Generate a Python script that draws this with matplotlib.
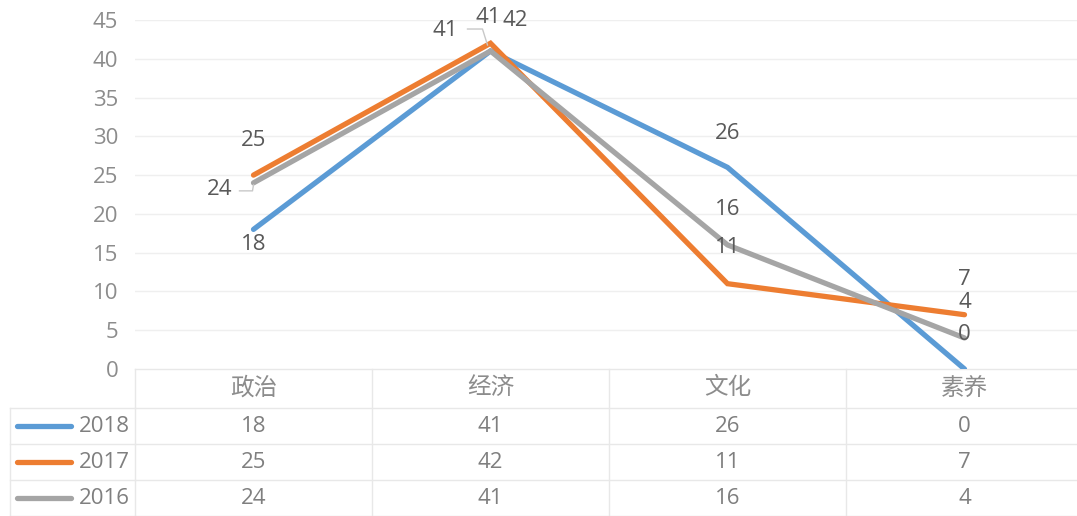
import matplotlib.pyplot as plt
from matplotlib.lines import Line2D
from matplotlib.transforms import blended_transform_factory, IdentityTransform

categories = ['政治', '经济', '文化', '素养']
years = ['2018', '2017', '2016']
vals_2018 = [18, 41, 26, 0]
vals_2017 = [25, 42, 11, 7]
vals_2016 = [24, 41, 16, 4]
y_ticks = [0, 5, 10, 15, 20, 25, 30, 35, 40, 45]

colors = ['#5B9BD5', '#ED7D31', '#A5A5A5']
series = [vals_2018, vals_2017, vals_2016]

# label offsets in pixels (dx, dy), dy positive = up
label_off = [
    [(0, -15), (-2, 34), (0, 34), (0, 35)],
    [(0, 35), (25, 23), (0, 36), (0, 35)],
    [(-34, -7), (-45, 21), (0, 35), (0, 35)],
]

plt.rcParams['font.family'] = ['Open Sans', 'Noto Sans CJK SC', 'DejaVu Sans']
W, H = 1077, 516
fig = plt.figure(figsize=(W / 100, H / 100), dpi=100)
ax = fig.add_axes([135 / W, 147 / H, 942 / W, 349 / H])
ax.set_xlim(-0.5, -0.5 + 942 / 237)
ax.set_ylim(0, 45)

ax.set_yticks(y_ticks)
ax.set_yticklabels([str(t) for t in y_ticks], fontsize=16, color='#8c8c8c')
ax.tick_params(axis='y', length=0, pad=12)
ax.set_xticks([])
for s in ax.spines.values():
    s.set_visible(False)
for t in y_ticks[1:]:
    ax.axhline(t, color='#efefef', lw=1, zorder=0)

x = list(range(len(categories)))
for vals, c in zip(series, colors):
    ax.plot(x, vals, color=c, lw=3.8, solid_capstyle='round',
            solid_joinstyle='miter', zorder=3)

for vals, offs in zip(series, label_off):
    for i, v in enumerate(vals):
        dx, dy = offs[i]
        ax.annotate(str(v), (i, v), xytext=(dx * 0.72, dy * 0.72),
                    textcoords='offset points', ha='center', va='center',
                    fontsize=16, color='#595959', zorder=5)

# leader lines for 2016 labels
fig.canvas.draw()
leaders = {0: [(-14, -8), (-1, -8), (0, -2)], 1: [(-23, 22), (-8, 22), (-3, 6)]}
for i, pts in leaders.items():
    px, py = ax.transData.transform((i, vals_2016[i]))
    ln = Line2D([px + p[0] for p in pts], [py + p[1] for p in pts],
                transform=IdentityTransform(), color='#c8c8c8', lw=1)
    fig.add_artist(ln)

# data table below the axis
tr = blended_transform_factory(ax.transData, ax.transAxes)
ftr = blended_transform_factory(fig.transFigure, ax.transAxes)
grid_c = '#e8e8e8'
row_y = [0.0, -39 / 349, -75 / 349, -111 / 349, -147 / 349]
xr = ax.get_xlim()[1]
for ry in row_y:
    ax.add_line(Line2D([-0.5, xr], [ry, ry], transform=tr, color=grid_c, lw=1, clip_on=False))
for bx in [-0.5, 0.5, 1.5, 2.5]:
    ax.add_line(Line2D([bx, bx], [row_y[0], row_y[-1]], transform=tr, color=grid_c, lw=1, clip_on=False))
for ry in row_y[1:]:
    fig.add_artist(Line2D([10 / W, 135 / W], [ry, ry], color=grid_c, lw=1, transform=ftr))
fig.add_artist(Line2D([10 / W, 10 / W], [row_y[1], row_y[-1]], color=grid_c, lw=1, transform=ftr))

for i, c in enumerate(categories):
    ax.text(i, (row_y[0] + row_y[1]) / 2, c, transform=tr, ha='center', va='center',
            fontsize=17, color='#8c8c8c', clip_on=False)

for r, (yr, vals, c) in enumerate(zip(years, series, colors)):
    yc = (row_y[r + 1] + row_y[r + 2]) / 2
    fig.add_artist(Line2D([17 / W, 71 / W], [yc, yc], color=c, lw=3.8,
                          solid_capstyle='round', transform=ftr))
    fig.text(130 / W, yc, yr, transform=ftr, ha='right', va='center',
             fontsize=16, color='#7f7f7f')
    for i, v in enumerate(vals):
        ax.text(i, yc, str(v), transform=tr, ha='center', va='center',
                fontsize=16, color='#7f7f7f', clip_on=False)

fig.savefig('out.png', dpi=100)
